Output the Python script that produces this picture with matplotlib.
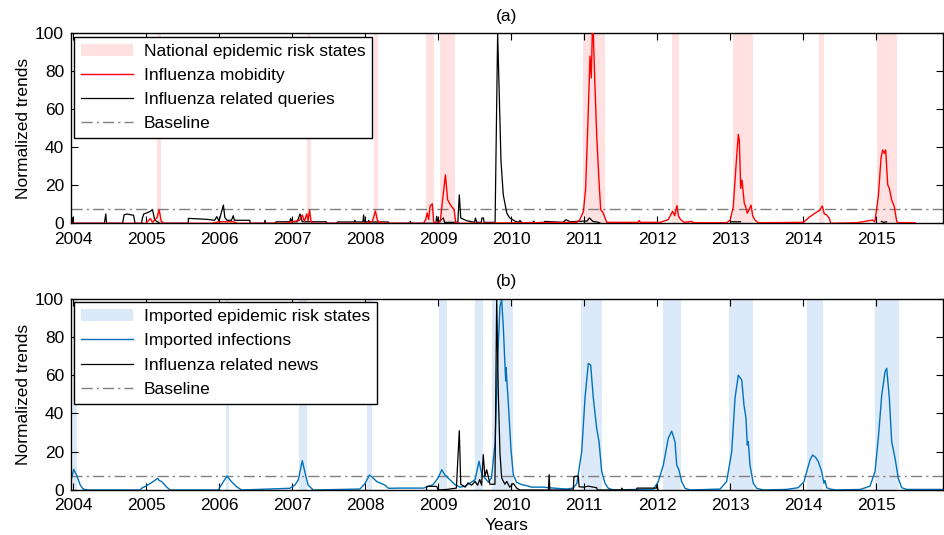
import numpy as np
import matplotlib
matplotlib.use("Agg")
import matplotlib.pyplot as plt
from matplotlib.patches import Patch
from matplotlib.lines import Line2D

nan = float("nan")

# ---- data ----
year_ticks = list(range(2004, 2016))
baseline = 7.3

# national epidemic risk states (panel a), start/end in years
national_start = [2005.15, 2007.20, 2008.12, 2008.83, 2009.03, 2010.99, 2012.20, 2013.04, 2014.21, 2015.01]
national_end = [2005.205, 2007.26, 2008.18, 2008.94, 2009.23, 2011.28, 2012.30, 2013.31, 2014.29, 2015.28]

# imported epidemic risk states (panel b)
imported_start = [2004.00, 2006.10, 2007.09, 2008.03, 2009.01, 2009.51, 2009.74, 2010.95, 2012.08, 2012.98, 2014.05, 2014.98]
imported_end = [2004.06, 2006.14, 2007.20, 2008.10, 2009.12, 2009.62, 2010.02, 2011.25, 2012.33, 2013.31, 2014.27, 2015.31]

# influenza mobidity (red)
mob_years = [2003.98, 2005.00, 2005.06, 2005.09, 2005.15, 2005.18, 2005.21, 2005.25, 2005.9, 2006.0,
             2006.2, 2006.25, 2006.9, 2007.0, 2007.10, 2007.14, 2007.17, 2007.20, 2007.22, 2007.24,
             2007.26, 2007.30, 2008.0, 2008.10, 2008.14, 2008.17, 2008.2, 2008.3, 2008.80, 2008.83,
             2008.85, 2008.87, 2008.89, 2008.92, 2008.94, 2009.0, 2009.03, 2009.06, 2009.08, 2009.10,
             2009.13, 2009.18, 2009.22, 2009.24, 2009.3, 2010.90, 2010.94, 2010.99, 2011.02, 2011.056,
             2011.079, 2011.097, 2011.111, 2011.125, 2011.144, 2011.171, 2011.203, 2011.226, 2011.261, 2011.308,
             2011.74, 2011.755, 2011.77, 2012.04, 2012.15, 2012.21, 2012.24, 2012.27, 2012.29, 2012.32,
             2012.37, 2012.47, 2012.5, 2012.95, 2013.00, 2013.041, 2013.078, 2013.110, 2013.124, 2013.143,
             2013.161, 2013.192, 2013.21, 2013.233, 2013.257, 2013.284, 2013.307, 2013.338, 2013.384, 2014.0,
             2014.092, 2014.16, 2014.229, 2014.260, 2014.287, 2014.320, 2014.356, 2014.375, 2014.73, 2014.95,
             2014.98, 2015.027, 2015.064, 2015.087, 2015.109, 2015.128, 2015.156, 2015.178, 2015.210, 2015.246,
             2015.279, 2015.30, 2015.53]
mob_values = [0, 0, 2.5, 0.5, 3, 7, 1, 0, 0, 0.8,
              0.8, 0, 0, 0.8, 1.5, 4.4, 1, 5, 1.5, 7,
              1, 0, 0, 1, 6.5, 1.5, 0.5, 0, 0, 2,
              5.4, 2, 9, 10.3, 0.5, 0, 1, 12, 18.6, 25.5,
              12.4, 9, 7.2, 0.5, 0, 0.5, 1.9, 6.3, 18.6, 59,
              88, 76.5, 100, 100, 76, 46.6, 22, 7.2, 5.4, 0.5,
              0.5, 1.5, 0.5, 0.5, 1.9, 6.3, 4, 9.3, 4, 1.9,
              0.5, 1, 0.3, 0.3, 1.7, 8.8, 29.8, 46.8, 43.8, 18.4,
              22.8, 10.5, 8.8, 5.3, 7, 9.6, 4, 1.7, 0.3, 0.5,
              3.5, 5.3, 7, 9.1, 5, 4.4, 2.6, 0, 0.3, 1.7,
              0.8, 14, 34.2, 38.6, 36.8, 38.6, 20.2, 18.4, 12.3, 8.8,
              1, 0.3, 0.3]

# influenza related queries (black, panel a)
queries_years = [2003.98, 2003.99, 2004.00, 2004.43, 2004.45, 2004.46, 2004.68, 2004.70, 2004.74, 2004.83,
                 2004.85, 2004.94, 2004.95, 2004.97, 2005.02, 2005.09, 2005.12, 2005.19, 2005.579, 2005.58,
                 2005.83, 2005.94, 2005.97, 2006.0, 2006.06, 2006.08, 2006.11, 2006.17, 2006.195, 2006.21,
                 2006.42, 2006.43, 2006.62, 2006.63, 2006.64, 2006.77, 2006.78, 2006.97, 2006.98, 2007.0,
                 2007.07, 2007.11, 2007.14, 2007.47, 2007.48, 2007.61, 2007.62, 2007.85, 2007.86, 2007.87,
                 2007.97, 2007.98, 2007.99, 2008.04, 2008.05, 2008.06, 2008.32, 2008.33, 2008.61, 2008.62,
                 2008.63, 2008.97, 2008.98, 2009.0, 2009.07, 2009.09, 2009.27, 2009.29, 2009.31, 2009.39,
                 2009.50, 2009.51, 2009.53, 2009.59, 2009.60, 2009.62, 2009.63, 2009.78, 2009.815, 2009.837,
                 2009.861, 2009.892, 2009.94, 2009.98, 2010.05, 2010.10, 2010.12, 2010.15, 2010.3, 2010.31,
                 2010.32, 2010.45, 2010.46, 2010.71, 2010.75, 2010.81, 2010.90, 2011.04, 2011.07, 2011.12,
                 2011.2, 2011.22, 2011.23, 2013.02, 2013.14, 2013.15, 2015.07, 2015.10, 2015.14]
queries_values = [0, 3, 0, 0, 4.9, 0, 0, 4.4, 4.9, 4.2,
                  0, 0, 2.6, 4.9, 5.6, 7, 1.7, 0, 0, 2.6,
                  2.1, 1.6, 3.5, 1.2, 9.6, 3, 1.6, 1.6, 4, 1.6,
                  1.6, 0, 0, 1.6, 0, 0, 0.8, 0.8, 2.6, 0.8,
                  0.8, 4.9, 0.8, 0.8, 0, 0, 0.7, 0.7, 1.6, 0.7,
                  0.7, 4.4, 0.7, 0.7, 1.6, 0.7, 0.7, 0, 0, 1,
                  0, 0, 3.7, 0.5, 2.8, 0.5, 0.5, 15, 2.8, 1.4,
                  0.5, 2.8, 0.5, 0.5, 2.8, 2.8, 0.5, 0.5, 100, 67.7,
                  32.6, 15, 5.4, 2.8, 1.2, 0.5, 1.5, 0.3, 0.5, 1.2,
                  0.3, 0.5, 1.0, 0.5, 1.9, 0.8, 1, 1.2, 2.8, 1.0,
                  0.5, 0, nan, 0.8, 0.8, nan, 1, 0.5, 0.8]

# imported infections (blue)
imp_years = [2003.98, 2004.01, 2004.05, 2004.10, 2004.14, 2004.2, 2004.92, 2004.94, 2005.01, 2005.10,
             2005.16, 2005.18, 2005.215, 2005.28, 2005.33, 2005.99, 2006.06, 2006.11, 2006.17, 2006.24,
             2006.31, 2006.97, 2007.04, 2007.085, 2007.14, 2007.18, 2007.22, 2007.29, 2007.93, 2008.00,
             2008.06, 2008.09, 2008.16, 2008.27, 2008.32, 2008.48, 2008.8, 2008.93, 2009.00, 2009.05,
             2009.09, 2009.16, 2009.23, 2009.30, 2009.37, 2009.44, 2009.505, 2009.56, 2009.60, 2009.64,
             2009.69, 2009.73, 2009.78, 2009.815, 2009.847, 2009.870, 2009.892, 2009.915, 2009.925, 2009.93,
             2009.961, 2009.998, 2010.029, 2010.075, 2010.144, 2010.212, 2010.281, 2010.44, 2010.58, 2010.76,
             2010.85, 2010.90, 2010.966, 2011.011, 2011.056, 2011.089, 2011.125, 2011.171, 2011.203, 2011.240,
             2011.285, 2011.330, 2011.4, 2011.95, 2012.015, 2012.083, 2012.151, 2012.198, 2012.243, 2012.267,
             2012.298, 2012.335, 2012.380, 2012.45, 2012.86, 2012.95, 2013.02, 2013.065, 2013.110, 2013.157,
             2013.188, 2013.215, 2013.233, 2013.247, 2013.270, 2013.315, 2013.362, 2013.45, 2013.77, 2013.93,
             2014.01, 2014.047, 2014.092, 2014.128, 2014.170, 2014.206, 2014.252, 2014.283, 2014.297, 2014.320,
             2014.366, 2014.45, 2014.78, 2014.913, 2014.982, 2015.027, 2015.074, 2015.119, 2015.142, 2015.178,
             2015.210, 2015.256, 2015.301, 2015.347, 2015.416, 2015.91]
imp_values = [6.1, 10.8, 7.8, 2.6, 0.5, 0, 0, 0.9, 2.3, 4.4,
              6.1, 5.0, 4.4, 1.7, 0, 0, 4.4, 7.3, 4.4, 1.7,
              0, 0.9, 2.6, 5.2, 15.3, 8.7, 2.6, 0, 0.5, 3.5,
              7.8, 7, 4.4, 2.6, 0.9, 1, 1, 2.8, 6.3, 10.6,
              8, 5.4, 2.8, 1.5, 2, 3.7, 5.4, 15, 8, 6.3,
              4, 6.3, 24.6, 68, 96, 99.5, 85.6, 66, 57, 64,
              45.5, 21, 8, 4, 2.8, 2.3, 1.5, 1.5, 1, 0.5,
              1, 3.5, 20, 48, 66.2, 65.3, 48, 32.2, 25.3, 9.6,
              3.5, 0.9, 0, 0.5, 4.4, 13, 27, 30.8, 25.3, 13,
              10.4, 4.4, 0.9, 0, 0.5, 4.4, 20, 48, 60, 57.5,
              44.4, 37.5, 23.5, 25.3, 13, 3.5, 0.9, 0, 0.3, 1.2,
              4.4, 9.6, 15.7, 18.3, 17, 14.8, 9.6, 3.5, 5, 1.2,
              0.5, 0, 0.3, 2, 9.6, 27, 49.6, 61.8, 63.6, 48,
              25.3, 16.6, 6.1, 1.2, 0.3, 0.3]

# influenza related news (black, panel b)
news_years = [2008.84, 2008.845, 2008.98, 2009.00, 2009.12, 2009.25, 2009.29, 2009.31, 2009.37, 2009.41,
              2009.46, 2009.505, 2009.54, 2009.57, 2009.596, 2009.618, 2009.641, 2009.665, 2009.687, 2009.71,
              2009.778, 2009.802, 2009.824, 2009.847, 2009.87, 2009.915, 2009.94, 2009.98, 2010.03, 2010.075,
              2010.12, 2010.51, 2010.52, 2010.53, 2010.85, 2010.86, 2010.92, 2010.93, 2010.99, 2011.06,
              2011.125, 2011.17, 2011.18, 2011.51, 2011.515, 2011.52, 2011.72, 2011.721, 2011.99, 2012.00,
              2012.01]
news_values = [0, 1.9, 1.9, 0, 0.3, 1, 31, 3, 1.5, 3.7,
               2.5, 4.5, 2.5, 5.5, 2.5, 18.5, 7.1, 10.6, 7, 3,
               3, 100, 50.7, 19.3, 6.3, 3, 4.5, 1.5, 3.5, 1,
               0, 0, 8, 0, 0, 7, 7.3, 1.7, 1.5, 2,
               1.5, 1.2, 0, 0, 1, 0, 0, 1, 1, 2.5,
               0]

# ---- plotting ----
plt.rcParams["font.family"] = ["Liberation Sans", "DejaVu Sans"]
plt.rcParams["font.size"] = 12.5

fig = plt.figure(figsize=(9.45, 5.35), dpi=100)
ax1 = fig.add_axes([0.0751, 0.5826, 0.9228, 0.3552])
ax2 = fig.add_axes([0.0751, 0.0841, 0.9228, 0.3576])

pink = "#ffe1e1"
lightblue = "#dce9f8"
blue = "#0072bd"
dashdot = (0, (8, 3, 1.5, 3))


def style_axes(ax):
    ax.set_xlim(2003.973, 2015.913)
    ax.set_ylim(0, 100)
    ax.set_xticks(year_ticks)
    ax.set_xticklabels([str(y) for y in year_ticks])
    ax.set_yticks([0, 20, 40, 60, 80, 100])
    ax.tick_params(direction="in", length=5, width=0.8, top=True, right=True, labelsize=12.5)
    ax.tick_params(axis="x", pad=6)
    ax.tick_params(axis="y", pad=5)
    for s in ax.spines.values():
        s.set_linewidth(1.0)
    ax.set_ylabel("Normalized trends", fontsize=12.5, labelpad=3)


def add_legend(ax, handles, labels):
    leg = ax.legend(handles, labels, loc="upper left", fontsize=12.5, handlelength=3, fancybox=False,
                    borderaxespad=0.2, labelspacing=0.52, borderpad=0.4, handletextpad=0.6, framealpha=1)
    leg.get_frame().set_edgecolor("black")
    leg.get_frame().set_linewidth(1.0)


# panel (a)
for s, e in zip(national_start, national_end):
    ax1.axvspan(s, e, color=pink, lw=0, zorder=0)
ax1.plot(mob_years, mob_values, color="red", lw=1.0, zorder=3)
ax1.plot(queries_years, queries_values, color="black", lw=0.9, zorder=2)
ax1.axhline(baseline, color="#808080", lw=1.0, ls=dashdot, zorder=1)
style_axes(ax1)
ax1.set_title("(a)", fontsize=12.5, pad=9)
add_legend(ax1,
           [Patch(facecolor=pink, edgecolor="none"),
            Line2D([], [], color="red", lw=1.0),
            Line2D([], [], color="black", lw=0.9),
            Line2D([], [], color="#808080", lw=1.0, ls=dashdot)],
           ["National epidemic risk states", "Influenza mobidity", "Influenza related queries", "Baseline"])

# panel (b)
for s, e in zip(imported_start, imported_end):
    ax2.axvspan(s, e, color=lightblue, lw=0, zorder=0)
ax2.plot(imp_years, imp_values, color=blue, lw=1.0, zorder=2)
ax2.plot(news_years, news_values, color="black", lw=0.9, zorder=3)
ax2.axhline(baseline, color="#808080", lw=1.0, ls=dashdot, zorder=1)
style_axes(ax2)
ax2.set_title("(b)", fontsize=12.5, pad=9)
ax2.set_xlabel("Years", fontsize=12.5, labelpad=3)
add_legend(ax2,
           [Patch(facecolor=lightblue, edgecolor="none"),
            Line2D([], [], color=blue, lw=1.0),
            Line2D([], [], color="black", lw=0.9),
            Line2D([], [], color="#808080", lw=1.0, ls=dashdot)],
           ["Imported epidemic risk states", "Imported infections", "Influenza related news", "Baseline"])

fig.savefig("out.png", dpi=100)
